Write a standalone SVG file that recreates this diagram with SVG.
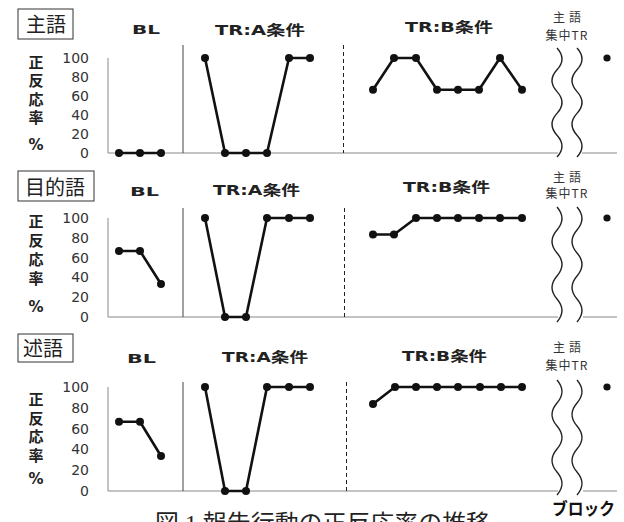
<svg xmlns="http://www.w3.org/2000/svg" width="624" height="522" viewBox="0 0 624 522">
<style>
.bg{fill:#fff}
.box{fill:none;stroke:#333;stroke-width:1}
.boxt{font-family:"Noto Sans CJK JP",sans-serif;font-size:20px;fill:#222}
.ttl{font-family:"DejaVu Sans","Noto Sans CJK JP",sans-serif;font-weight:bold;fill:#222}
.yl{font-family:"DejaVu Sans",sans-serif;font-size:14px;fill:#333;text-anchor:end}
.yt{font-family:"Noto Sans CJK JP",sans-serif;font-weight:bold;font-size:15px;fill:#222;writing-mode:vertical-rl}
.pct{font-family:"DejaVu Sans",sans-serif;font-weight:bold;font-size:15px;fill:#222;text-anchor:middle}
.ax{stroke:#888;stroke-width:1;fill:none}
.ph{stroke:#444;stroke-width:1;fill:none}
.dash{stroke:#222;stroke-width:1;stroke-dasharray:4,3;fill:none}
.data{stroke:#111;stroke-width:2.6;fill:none;stroke-linejoin:round}
.dot{fill:#111}
.wave{stroke:#222;stroke-width:1.4;fill:none}
.sm{font-family:"Noto Sans CJK JP",sans-serif;font-size:12px;fill:#333;text-anchor:middle}
</style>
<rect class="bg" x="0" y="0" width="624" height="522"/>

<!-- Panel 1: 主語 -->
<g id="panel-subject">
  <rect class="box" x="18" y="9" width="55" height="30"/>
  <text class="boxt" x="26" y="32">主語</text>
  <text class="ttl" x="132" y="34" font-size="12" textLength="28" lengthAdjust="spacingAndGlyphs">BL</text>
  <text class="ttl" x="215" y="35" font-size="14" textLength="90" lengthAdjust="spacingAndGlyphs">TR:A条件</text>
  <text class="ttl" x="405" y="32" font-size="14" textLength="88" lengthAdjust="spacingAndGlyphs">TR:B条件</text>
  <text class="sm" x="569" y="22" letter-spacing="4">主語</text>
  <text class="sm" x="567" y="40" letter-spacing="1">集中TR</text>
  <text class="yt" x="36" y="55" letter-spacing="3.3">正反応率</text>
  <text class="pct" x="36" y="150">%</text>
  <text class="yl" x="89" y="63">100</text>
  <text class="yl" x="89" y="82">80</text>
  <text class="yl" x="89" y="101">60</text>
  <text class="yl" x="89" y="120">40</text>
  <text class="yl" x="89" y="139">20</text>
  <text class="yl" x="89" y="158">0</text>
  <path class="ax" d="M108,58 V153 H558 M582,153 H617"/>
  <path class="ph" d="M183,45 V153"/>
  <path class="dash" d="M343.5,45 V153"/>
  <path class="wave" d="M557,48 Q567,58.9 557,69.8 T557,91.6 T557,113.4 T557,135.2 T557,157"/>
  <path class="wave" d="M577,48 Q587,58.9 577,69.8 T577,91.6 T577,113.4 T577,135.2 T577,157"/>
  <g id="data-subject">
    <polyline class="data" points="119,153 140,153 161,153"/>
    <polyline class="data" points="205,58 225,153 246,153 267,153 289,58 310,58"/>
    <polyline class="data" points="373,89.7 394,58 416,58 437,89.7 458,89.7 479,89.7 500,58 522,89.7"/>
    <g class="dot">
      <circle cx="119" cy="153" r="4"/><circle cx="140" cy="153" r="4"/><circle cx="161" cy="153" r="4"/>
      <circle cx="205" cy="58" r="4"/><circle cx="225" cy="153" r="4"/><circle cx="246" cy="153" r="4"/><circle cx="267" cy="153" r="4"/><circle cx="289" cy="58" r="4"/><circle cx="310" cy="58" r="4"/>
      <circle cx="373" cy="89.7" r="4"/><circle cx="394" cy="58" r="4"/><circle cx="416" cy="58" r="4"/><circle cx="437" cy="89.7" r="4"/><circle cx="458" cy="89.7" r="4"/><circle cx="479" cy="89.7" r="4"/><circle cx="500" cy="58" r="4"/><circle cx="522" cy="89.7" r="4"/>
      <circle cx="607" cy="58" r="3.6"/>
    </g>
  </g>
</g>

<!-- Panel 2: 目的語 -->
<g id="panel-object">
  <rect class="box" x="18" y="171" width="76" height="30"/>
  <text class="boxt" x="25" y="195">目的語</text>
  <text class="ttl" x="130" y="196" font-size="12" textLength="29" lengthAdjust="spacingAndGlyphs">BL</text>
  <text class="ttl" x="213" y="195" font-size="14" textLength="87" lengthAdjust="spacingAndGlyphs">TR:A条件</text>
  <text class="ttl" x="403" y="192" font-size="14" textLength="87" lengthAdjust="spacingAndGlyphs">TR:B条件</text>
  <text class="sm" x="569" y="182" letter-spacing="4">主語</text>
  <text class="sm" x="567" y="198" letter-spacing="1">集中TR</text>
  <text class="yt" x="36" y="214" letter-spacing="4">正反応率</text>
  <text class="pct" x="36" y="312">%</text>
  <text class="yl" x="89" y="223">100</text>
  <text class="yl" x="89" y="243">80</text>
  <text class="yl" x="89" y="263">60</text>
  <text class="yl" x="89" y="282">40</text>
  <text class="yl" x="89" y="302">20</text>
  <text class="yl" x="89" y="322">0</text>
  <path class="ax" d="M108,218 V317 H558 M583,317 H617"/>
  <path class="ph" d="M183,208 V317"/>
  <path class="dash" d="M344.5,208 V317"/>
  <path class="wave" d="M557,207 Q567,218.5 557,230 T557,253 T557,276 T557,299 T557,322"/>
  <path class="wave" d="M577,207 Q587,218.5 577,230 T577,253 T577,276 T577,299 T577,322"/>
  <g id="data-object">
    <polyline class="data" points="119,251 140,251 161,284"/>
    <polyline class="data" points="205,218 225,317 246,317 267,218 289,218 310,218"/>
    <polyline class="data" points="373,234.5 394,234.5 416,218 437,218 458,218 479,218 500,218 522,218"/>
    <g class="dot">
      <circle cx="119" cy="251" r="4"/><circle cx="140" cy="251" r="4"/><circle cx="161" cy="284" r="4"/>
      <circle cx="205" cy="218" r="4"/><circle cx="225" cy="317" r="4"/><circle cx="246" cy="317" r="4"/><circle cx="267" cy="218" r="4"/><circle cx="289" cy="218" r="4"/><circle cx="310" cy="218" r="4"/>
      <circle cx="373" cy="234.5" r="4"/><circle cx="394" cy="234.5" r="4"/><circle cx="416" cy="218" r="4"/><circle cx="437" cy="218" r="4"/><circle cx="458" cy="218" r="4"/><circle cx="479" cy="218" r="4"/><circle cx="500" cy="218" r="4"/><circle cx="522" cy="218" r="4"/>
      <circle cx="607" cy="218" r="3.6"/>
    </g>
  </g>
</g>

<!-- Panel 3: 述語 -->
<g id="panel-predicate">
  <rect class="box" x="18" y="334" width="55" height="28"/>
  <text class="boxt" x="23" y="356">述語</text>
  <text class="ttl" x="127" y="363" font-size="12" textLength="29" lengthAdjust="spacingAndGlyphs">BL</text>
  <text class="ttl" x="222" y="362" font-size="14" textLength="86" lengthAdjust="spacingAndGlyphs">TR:A条件</text>
  <text class="ttl" x="402" y="361" font-size="14" textLength="85" lengthAdjust="spacingAndGlyphs">TR:B条件</text>
  <text class="sm" x="569" y="352" letter-spacing="4">主語</text>
  <text class="sm" x="567" y="370" letter-spacing="1">集中TR</text>
  <text class="yt" x="36" y="392" letter-spacing="3.6">正反応率</text>
  <text class="pct" x="36" y="484">%</text>
  <text class="yl" x="89" y="392">100</text>
  <text class="yl" x="89" y="413">80</text>
  <text class="yl" x="89" y="434">60</text>
  <text class="yl" x="89" y="454">40</text>
  <text class="yl" x="89" y="475">20</text>
  <text class="yl" x="89" y="496">0</text>
  <path class="ax" d="M108,387 V491 H558 M583,491 H617"/>
  <path class="ph" d="M183,382 V491"/>
  <path class="dash" d="M346.5,382 V491"/>
  <path class="wave" d="M557,380 Q567,391.5 557,403 T557,426 T557,449 T557,472 T557,495"/>
  <path class="wave" d="M577,380 Q587,391.5 577,403 T577,426 T577,449 T577,472 T577,495"/>
  <g id="data-predicate">
    <polyline class="data" points="119,421.7 140,421.7 161,456"/>
    <polyline class="data" points="205,387 225,491 246,491 267,387 289,387 310,387"/>
    <polyline class="data" points="373,404 395,387 416,387 437,387 458,387 480,387 501,387 522,387"/>
    <g class="dot">
      <circle cx="119" cy="421.7" r="4"/><circle cx="140" cy="421.7" r="4"/><circle cx="161" cy="456" r="4"/>
      <circle cx="205" cy="387" r="4"/><circle cx="225" cy="491" r="4"/><circle cx="246" cy="491" r="4"/><circle cx="267" cy="387" r="4"/><circle cx="289" cy="387" r="4"/><circle cx="310" cy="387" r="4"/>
      <circle cx="373" cy="404" r="4"/><circle cx="395" cy="387" r="4"/><circle cx="416" cy="387" r="4"/><circle cx="437" cy="387" r="4"/><circle cx="458" cy="387" r="4"/><circle cx="480" cy="387" r="4"/><circle cx="501" cy="387" r="4"/><circle cx="522" cy="387" r="4"/>
      <circle cx="607" cy="387" r="3.6"/>
    </g>
  </g>
</g>

<g id="xlabel">
  <text x="552" y="515" font-family="Noto Sans CJK JP, sans-serif" font-weight="bold" font-size="17" fill="#111" textLength="63" lengthAdjust="spacingAndGlyphs">ブロック</text>
</g>
<g id="caption">
  <text x="155" y="531" font-family="Liberation Serif, Noto Sans CJK JP, serif" font-size="23" fill="#222" textLength="335" lengthAdjust="spacingAndGlyphs">図 1 報告行動の正反応率の推移</text>
</g>
</svg>
